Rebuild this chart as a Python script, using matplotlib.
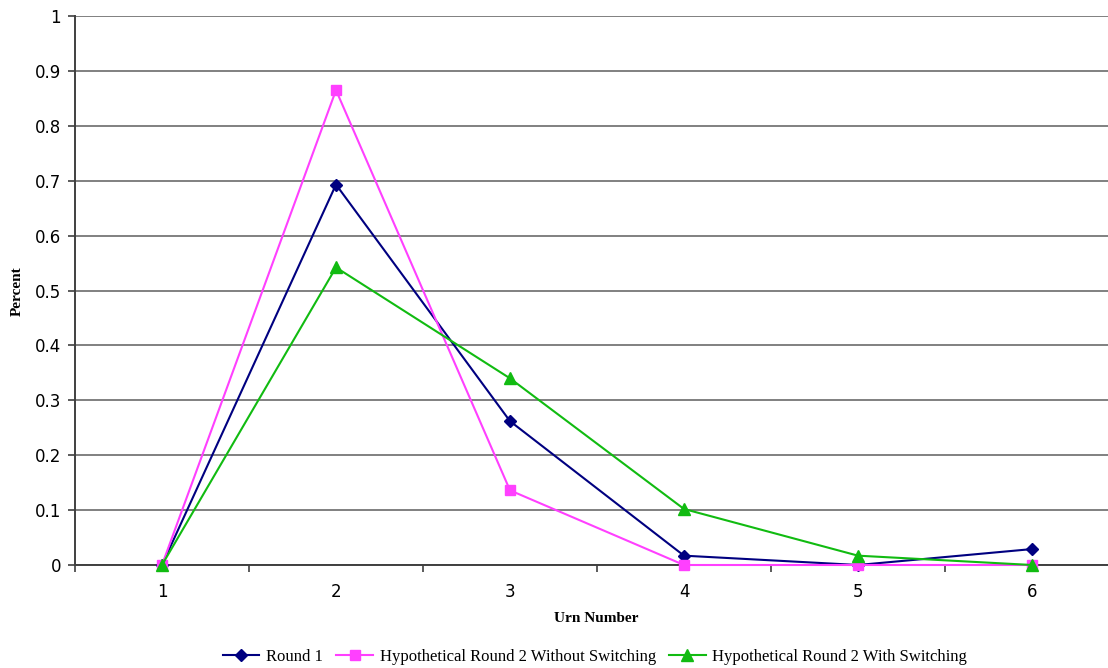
import matplotlib
matplotlib.use("Agg")
import matplotlib.pyplot as plt
from matplotlib.ticker import FixedLocator, NullFormatter

urns = [1, 2, 3, 4, 5, 6]
round1 = [0.0, 0.693, 0.262, 0.017, 0.0, 0.029]
no_switch = [0.0, 0.865, 0.136, 0.0, 0.0, 0.0]
with_switch = [0.0, 0.542, 0.340, 0.102, 0.017, 0.0]
yticks = [0, 0.1, 0.2, 0.3, 0.4, 0.5, 0.6, 0.7, 0.8, 0.9, 1]
ytick_labels = ["0", "0.1", "0.2", "0.3", "0.4", "0.5", "0.6", "0.7", "0.8", "0.9", "1"]

W, H = 1108, 668
fig = plt.figure(figsize=(W / 100, H / 100), dpi=100)
left, right, top, bottom = 75, 1119, 16, 565
ax = fig.add_axes([left / W, 1 - bottom / H, (right - left) / W, (bottom - top) / H])

ax.plot(urns, round1, color="#000080", marker="D", markersize=6, linewidth=1.5,
        label="Round 1", clip_on=False, zorder=3)
ax.plot(urns, no_switch, color="#FF40FF", marker="s", markersize=7, linewidth=1.5,
        label="Hypothetical Round 2 Without Switching", clip_on=False, zorder=4)
ax.plot(urns, with_switch, color="#11BB11", marker="^", markersize=8, linewidth=1.5,
        label="Hypothetical Round 2 With Switching", clip_on=False, zorder=5)

ax.set_xlim(0.5, 6.5)
ax.set_ylim(0, 1)
ax.set_yticks(yticks)
ax.set_yticklabels(ytick_labels, fontsize=12, fontfamily="DejaVu Sans")
ax.xaxis.set_major_locator(FixedLocator([0.5, 1.5, 2.5, 3.5, 4.5, 5.5, 6.5]))
ax.xaxis.set_major_formatter(NullFormatter())
ax.xaxis.set_minor_locator(FixedLocator(urns))
ax.set_xticklabels([str(u) for u in urns], minor=True, fontsize=12, fontfamily="DejaVu Sans")
ax.tick_params(axis="x", which="minor", length=0, pad=13)
ax.tick_params(axis="x", which="major", length=5, width=1.2, color="#404040", direction="out")
ax.tick_params(axis="y", length=5, width=1.2, color="#404040", direction="out", pad=5)

ax.grid(axis="y", color="#808080", linewidth=1.4)
ax.set_axisbelow(True)
for s in ["top", "right"]:
    ax.spines[s].set_visible(False)
for s in ["left", "bottom"]:
    ax.spines[s].set_color("#404040")
    ax.spines[s].set_linewidth(1.4)

fig.text(17 / W, 1 - 291 / H, "Percent", rotation=90, ha="center", va="center",
         fontsize=11, fontweight="bold", fontfamily="Liberation Serif")
fig.text(596 / W, 1 - 619 / H, "Urn Number", ha="center", va="center",
         fontsize=11, fontweight="bold", fontfamily="Liberation Serif")

leg = fig.legend(loc="center", bbox_to_anchor=(595 / W, 1 - 657 / H), ncol=3,
                 frameon=False, prop={"family": "Liberation Serif", "size": 12},
                 handlelength=2.2, columnspacing=0.8, handletextpad=0.4)

fig.savefig("out.png", dpi=100)
